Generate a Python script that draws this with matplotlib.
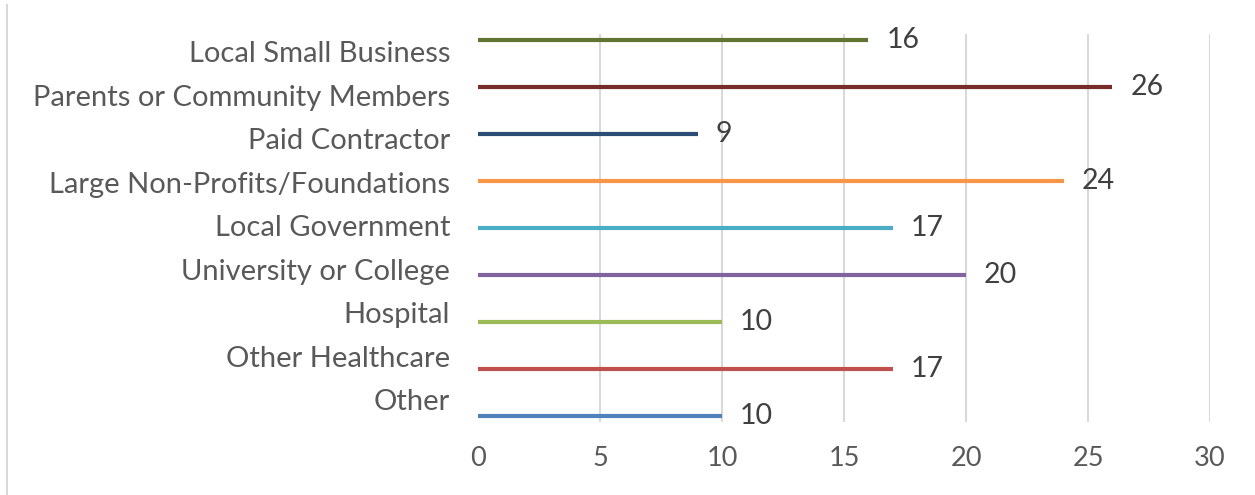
import matplotlib
matplotlib.use("Agg")
import matplotlib.pyplot as plt
from matplotlib.lines import Line2D
import numpy as np

# --- data (bottom to top) ---
categories = ["Other", "Other Healthcare", "Hospital", "University or College",
              "Local Government", "Large Non-Profits/Foundations", "Paid Contractor",
              "Parents or Community Members", "Local Small Business"]
values = [10, 17, 10, 20, 17, 24, 9, 26, 16]
colors = ["#4f81bd", "#c0504d", "#9bbb59", "#8064a2", "#4bacc6",
          "#f79646", "#2c4d75", "#772c2a", "#5f7530"]
xticks = [0, 5, 10, 15, 20, 25, 30]

plt.rcParams["font.family"] = ["Lato", "DejaVu Sans"]

fig = plt.figure(figsize=(12.55, 4.95), dpi=100, facecolor="white")
ax = fig.add_axes([478 / 1255, 1 - 422 / 495, (1210 - 478) / 1255, (422 - 34) / 495])

ypos = np.arange(len(categories))
ax.hlines(ypos, 0, values, colors=colors, linewidth=3, zorder=3)

for y, v in zip(ypos, values):
    ax.annotate(str(v), (v, y), xytext=(13, 0), textcoords="offset points",
                ha="left", va="center", fontsize=20.5, color="#404040")

ax.set_xlim(0, 30)
ax.set_ylim(-0.13, 8.13)
ax.set_xticks(xticks)
ax.set_xticklabels([str(t) for t in xticks], fontsize=19.5)

# category labels sit a bit off the bars, as in the original
label_pos = 0.34 + 0.926 * ypos
ax.set_yticks(label_pos)
ax.set_yticklabels(categories, fontsize=21)

ax.tick_params(axis="both", length=0, labelcolor="#595959")
ax.tick_params(axis="x", pad=17)
ax.tick_params(axis="y", pad=20)

ax.grid(axis="x", color="#d9d9d9", linewidth=1.5, zorder=0)
ax.xaxis.get_gridlines()[0].set_visible(False)
for s in ax.spines.values():
    s.set_visible(False)

# chart-area border fragment on the left
fig.add_artist(Line2D([7 / 1255, 7 / 1255], [0, 1 - 5 / 495],
                      color="#d9d9d9", linewidth=1.5))

fig.savefig("out.png", dpi=100, facecolor="white")
